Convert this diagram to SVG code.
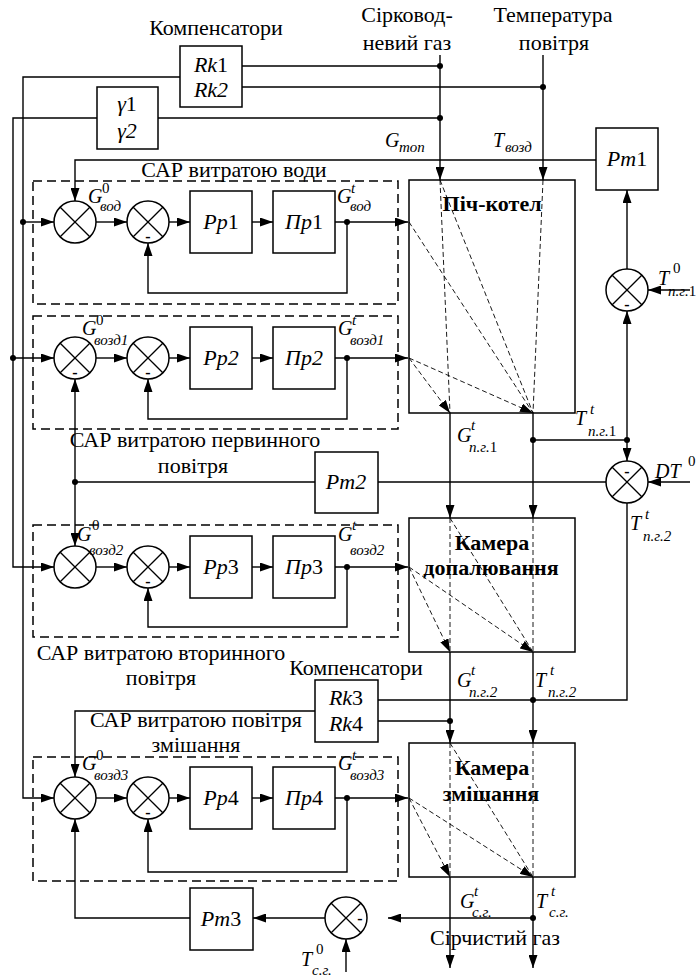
<svg xmlns="http://www.w3.org/2000/svg" width="700" height="977" viewBox="0 0 700 977" font-family="'Liberation Serif', 'DejaVu Serif', serif">
<defs>
<style>
text, tspan{font-family:'Liberation Serif','DejaVu Serif',serif;fill:#000}
.t{font-size:22px}
.l{font-size:20px}
.c{text-anchor:middle}
.i{font-style:italic}
.n{font-style:normal}
.s{font-size:15px}
.b{font-weight:bold;font-size:22px;text-anchor:middle}
.bx{fill:#fff;stroke:#000;stroke-width:1.5}
.cam{fill:none;stroke:#000;stroke-width:1.5}
.ln{fill:none;stroke:#000;stroke-width:1.4}
.a{marker-end:url(#ah)}
.db{fill:none;stroke:#000;stroke-width:1.5;stroke-dasharray:9 5}
.dl{fill:none;stroke:#000;stroke-width:0.9;stroke-dasharray:5 3}
.m{font-size:16px;font-weight:bold;text-anchor:middle}
</style>
<marker id="ah" markerUnits="userSpaceOnUse" markerWidth="13" markerHeight="9" refX="13" refY="4.5" orient="auto"><path d="M0,0 L13,4.5 L0,9 z" fill="#000"/></marker>
<g id="sum"><circle r="21" fill="#fff" stroke="#000" stroke-width="1.5"/><line x1="-14.8" y1="-14.8" x2="14.8" y2="14.8" stroke="#000" stroke-width="1.3"/><line x1="-14.8" y1="14.8" x2="14.8" y2="-14.8" stroke="#000" stroke-width="1.3"/></g>
</defs>
<rect width="700" height="977" fill="#fff"/>

<g id="captions">
<text class="t c" x="216" y="35">Компенсатори</text>
<text class="t c" x="407" y="22">Сірковод-</text>
<text class="t c" x="407" y="50">невий газ</text>
<text class="t c" x="553" y="22">Температура</text>
<text class="t c" x="554" y="50">повітря</text>
<text class="t c" x="234" y="177">САР витратою води</text>
<text class="t c" x="195" y="447">САР витратою первинного</text>
<text class="t c" x="193" y="473">повітря</text>
<text class="t c" x="161" y="660">САР витратою вторинного</text>
<text class="t c" x="161" y="685">повітря</text>
<text class="t c" x="356" y="675">Компенсатори</text>
<text class="t c" x="196" y="727">САР витратою повітря</text>
<text class="t c" x="196" y="752">змішання</text>
<text class="t c" x="495" y="945">Сірчистий газ</text>
</g>

<g id="frames">
<rect id="sap-water" class="db" x="33" y="181" width="365" height="123"/>
<rect id="sap-air1" class="db" x="33" y="316" width="365" height="113"/>
<rect id="sap-air2" class="db" x="33" y="525" width="365" height="112"/>
<rect id="sap-air3" class="db" x="33" y="757" width="365" height="124"/>
</g>

<g id="connectors">
<path class="ln" d="M242,66 H440 M242,87 H543 M158,118 H440"/>
<path class="ln a" d="M180,77 H23 V798 H54"/>
<path class="ln a" d="M97,118 H13 V567 H54"/>
<path class="ln a" d="M23,222 H54"/>
<path class="ln a" d="M13,358 H54"/>
<path class="ln a" d="M440,55 V180"/>
<path class="ln a" d="M543,55 V180"/>
<path class="ln a" d="M596,160 H75 V201"/>
<path class="ln a" d="M96,222 H127"/><path class="ln a" d="M169,222 H190"/><path class="ln a" d="M252,222 H273"/><path class="ln a" d="M335,222 H408"/>
<path class="ln a" d="M347,222 V293 H148 V243"/>
<path class="ln a" d="M96,358 H127"/><path class="ln a" d="M169,358 H190"/><path class="ln a" d="M252,358 H273"/><path class="ln a" d="M335,358 H408"/>
<path class="ln a" d="M347,358 V419 H148 V379"/>
<path class="ln a" d="M96,567 H127"/><path class="ln a" d="M169,567 H190"/><path class="ln a" d="M252,567 H273"/><path class="ln a" d="M335,567 H408"/>
<path class="ln a" d="M347,567 V627 H148 V588"/>
<path class="ln a" d="M96,798 H127"/><path class="ln a" d="M169,798 H190"/><path class="ln a" d="M252,798 H273"/><path class="ln a" d="M335,798 H408"/>
<path class="ln a" d="M347,798 V872 H148 V819"/>
<path class="ln" d="M315,482 H75"/>
<path class="ln a" d="M75,482 V379"/>
<path class="ln a" d="M75,482 V546"/>
<path class="ln a" d="M315,711 H75 V777"/>
<path class="ln a" d="M190,918 H75 V819"/>
<path class="ln a" d="M627,269 V190"/>
<path class="ln a" d="M690,290 H648"/>
<path class="ln a" d="M450,413 V518"/>
<path class="ln a" d="M533,413 V518"/>
<path class="ln" d="M533,440 H627"/>
<path class="ln a" d="M627,440 V311"/>
<path class="ln a" d="M627,440 V461"/>
<path class="ln a" d="M690,482 H648"/>
<path class="ln" d="M606,482 H378"/>
<path class="ln" d="M627,503 V700 H378"/>
<path class="ln a" d="M450,652 V743"/>
<path class="ln a" d="M533,652 V743"/>
<path class="ln" d="M378,721 H450"/>
<path class="ln a" d="M450,877 V968"/>
<path class="ln a" d="M533,877 V968"/>
<path class="ln a" d="M533,918 H388"/>
<path class="ln a" d="M325,918 H253"/>
<path class="ln a" d="M346,972 V939"/>
<path class="dl" d="M440,180 L450,413 M440,180 L533,413 M543,180 L533,413 M409,222 L533,413"/>
<path class="dl a" d="M409,358 L450,413"/>
<path class="dl a" d="M409,358 L533,413"/>
<path class="dl" d="M450,518 V652 M533,518 V652 M450,518 L533,652"/>
<path class="dl a" d="M409,567 L450,652"/>
<path class="dl a" d="M409,567 L533,652"/>
<path class="dl" d="M450,743 V877 M533,743 V877 M450,743 L533,877"/>
<path class="dl a" d="M409,798 L450,877"/>
<path class="dl a" d="M409,798 L533,877"/>
<g fill="#000">
<circle cx="440" cy="66" r="3"/><circle cx="543" cy="87" r="3"/><circle cx="440" cy="118" r="3"/>
<circle cx="23" cy="222" r="3"/><circle cx="13" cy="358" r="3"/>
<circle cx="347" cy="222" r="3"/><circle cx="347" cy="358" r="3"/><circle cx="347" cy="567" r="3"/><circle cx="347" cy="798" r="3"/>
<circle cx="75" cy="482" r="3"/>
<circle cx="533" cy="440" r="3"/><circle cx="627" cy="440" r="3"/>
<circle cx="533" cy="700" r="3"/><circle cx="450" cy="721" r="3"/>
<circle cx="533" cy="918" r="3"/>
</g>
</g>

<g id="rk12"><rect class="bx" x="180" y="46" width="62" height="61"/>
<text class="t c i" x="211" y="72">Rk<tspan class="n">1</tspan></text><text class="t c i" x="211" y="97">Rk2</text></g>
<g id="gamma"><rect class="bx" x="97" y="87" width="61" height="62"/>
<text class="t c i" x="127" y="111">γ<tspan class="n">1</tspan></text><text class="t c i" x="127" y="138">γ2</text></g>
<g id="pm1"><rect class="bx" x="596" y="128" width="62" height="62"/><text class="t c i" x="627" y="166">Рт<tspan class="n">1</tspan></text></g>
<g id="pm2"><rect class="bx" x="315" y="452" width="63" height="61"/><text class="t c i" x="346" y="489">Рт2</text></g>
<g id="pm3"><rect class="bx" x="190" y="888" width="63" height="62"/><text class="t c i" x="221" y="926">Рт<tspan class="n">3</tspan></text></g>
<g id="rk34"><rect class="bx" x="315" y="680" width="63" height="62"/>
<text class="t c i" x="346" y="705">Rk<tspan class="n">3</tspan></text><text class="t c i" x="346" y="731">Rk<tspan class="n">4</tspan></text></g>

<g id="pp1"><rect class="bx" x="190" y="191" width="62" height="62"/><text class="t c i" x="221" y="229">Рр<tspan class="n">1</tspan></text></g>
<g id="pr1"><rect class="bx" x="273" y="191" width="62" height="62"/><text class="t c i" x="304" y="229">Пр<tspan class="n">1</tspan></text></g>
<g id="pp2"><rect class="bx" x="190" y="327" width="62" height="62"/><text class="t c i" x="221" y="365">Рр2</text></g>
<g id="pr2"><rect class="bx" x="273" y="327" width="62" height="62"/><text class="t c i" x="304" y="365">Пр2</text></g>
<g id="pp3"><rect class="bx" x="190" y="536" width="62" height="62"/><text class="t c i" x="221" y="574">Рр<tspan class="n">3</tspan></text></g>
<g id="pr3"><rect class="bx" x="273" y="536" width="62" height="62"/><text class="t c i" x="304" y="574">Пр<tspan class="n">3</tspan></text></g>
<g id="pp4"><rect class="bx" x="190" y="767" width="62" height="62"/><text class="t c i" x="221" y="805">Рр<tspan class="n">4</tspan></text></g>
<g id="pr4"><rect class="bx" x="273" y="767" width="62" height="62"/><text class="t c i" x="304" y="805">Пр<tspan class="n">4</tspan></text></g>

<g id="s11"><use href="#sum" x="75" y="222"/></g>
<g id="s12"><use href="#sum" x="148" y="222"/><text class="m" x="148" y="242">-</text></g>
<g id="s21"><use href="#sum" x="75" y="358"/><text class="m" x="75" y="378">-</text></g>
<g id="s22"><use href="#sum" x="148" y="358"/><text class="m" x="148" y="378">-</text></g>
<g id="s31"><use href="#sum" x="75" y="567"/></g>
<g id="s32"><use href="#sum" x="148" y="567"/><text class="m" x="148" y="587">-</text></g>
<g id="s41"><use href="#sum" x="75" y="798"/></g>
<g id="s42"><use href="#sum" x="148" y="798"/><text class="m" x="148" y="818">-</text></g>
<g id="st1"><use href="#sum" x="627" y="290"/><text class="m" x="627" y="310">-</text></g>
<g id="sdt"><use href="#sum" x="627" y="482"/><text class="m" x="627" y="477">-</text></g>
<g id="ssg"><use href="#sum" x="346" y="918"/><text class="m" x="360" y="924">-</text></g>

<g id="furnace"><rect class="cam" x="409" y="180" width="166" height="233"/><text class="b" x="492" y="211">Піч-котел</text></g>
<g id="afterburner"><rect class="cam" x="409" y="518" width="166" height="134"/><text class="b" x="492" y="550">Камера</text><text class="b" x="491" y="575">допалювання</text></g>
<g id="mixer"><rect class="cam" x="409" y="743" width="166" height="134"/><text class="b" x="492" y="775">Камера</text><text class="b" x="491" y="801">змішання</text></g>

<g id="labels" class="l i">
<text x="385" y="147">G<tspan class="s" x="399" y="152">топ</tspan></text>
<text x="493" y="147">T<tspan class="s" x="505" y="152">возд</tspan></text>
<text x="88" y="203">G<tspan class="s n" x="102" y="193">0</tspan><tspan class="s" x="100" y="211">вод</tspan></text>
<text x="337" y="203">G<tspan class="s" x="351" y="193">t</tspan><tspan class="s" x="350" y="211">вод</tspan></text>
<text x="82" y="335">G<tspan class="s n" x="96" y="325">0</tspan><tspan class="s" x="94" y="345">возд1</tspan></text>
<text x="338" y="335">G<tspan class="s" x="352" y="325">t</tspan><tspan class="s" x="350" y="345">возд1</tspan></text>
<text x="77" y="541">G<tspan class="s n" x="92" y="530">0</tspan><tspan class="s" x="89" y="555">возд2</tspan></text>
<text x="338" y="541">G<tspan class="s" x="352" y="530">t</tspan><tspan class="s" x="350" y="555">возд2</tspan></text>
<text x="82" y="770">G<tspan class="s n" x="96" y="760">0</tspan><tspan class="s" x="94" y="780">возд3</tspan></text>
<text x="338" y="770">G<tspan class="s" x="352" y="760">t</tspan><tspan class="s" x="350" y="780">возд3</tspan></text>
<text x="457" y="442">G<tspan class="s" x="471" y="430">t</tspan><tspan class="s" x="469" y="452">п.г.<tspan class="n">1</tspan></tspan></text>
<text x="575" y="425">T<tspan class="s" x="590" y="414">t</tspan><tspan class="s" x="588" y="436">п.г.<tspan class="n">1</tspan></tspan></text>
<text x="658" y="285">T<tspan class="s n" x="673" y="273">0</tspan><tspan class="s" x="668" y="296">п.г.<tspan class="n">1</tspan></tspan></text>
<text x="655" y="478">DT<tspan class="s n" x="688" y="466">0</tspan></text>
<text x="630" y="530">T<tspan class="s" x="645" y="519">t</tspan><tspan class="s" x="643" y="541">п.г.2</tspan></text>
<text x="457" y="687">G<tspan class="s" x="471" y="675">t</tspan><tspan class="s" x="469" y="697">п.г.2</tspan></text>
<text x="535" y="687">T<tspan class="s" x="550" y="675">t</tspan><tspan class="s" x="548" y="697">п.г.2</tspan></text>
<text x="460" y="908">G<tspan class="s" x="474" y="896">t</tspan><tspan class="s" x="472" y="917">с.г.</tspan></text>
<text x="536" y="908">T<tspan class="s" x="551" y="896">t</tspan><tspan class="s" x="549" y="917">с.г.</tspan></text>
<text x="301" y="966">T<tspan class="s n" x="316" y="954">0</tspan><tspan class="s" x="312" y="975">с.г.</tspan></text>
</g>
</svg>
